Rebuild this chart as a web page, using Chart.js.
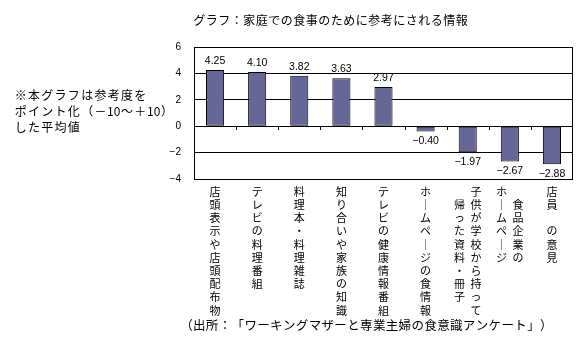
<!DOCTYPE html>
<html><head><meta charset="utf-8">
<script src="https://cdn.jsdelivr.net/npm/chart.js@4/dist/chart.umd.min.js"></script>
<style>html,body{margin:0;padding:0;background:#fff}#wrap{width:586px;height:363px;position:relative}</style>
</head><body><div id="wrap"><canvas id="c" width="586" height="363"></canvas></div>
<script>
// ---- data ----
const categories = [
  '店頭表示や店頭配布物',
  'テレビの料理番組',
  '料理本・料理雑誌',
  '知り合いや家族の知識',
  'テレビの健康情報番組',
  'ホームページの食情報',
  '子供が学校から持って帰った資料・冊子',
  '食品企業のホームページ',
  '店員の意見'
];
const values = [4.25, 4.10, 3.82, 3.63, 2.97, -0.40, -1.97, -2.67, -2.88];
const valueLabels = ['4.25', '4.10', '3.82', '3.63', '2.97', '−0.40', '−1.97', '−2.67', '−2.88'];
const yTickValues = [6, 4, 2, 0, -2, -4];
const yTickLabels = ['6', '4', '2', '0', '−2', '−4'];
// vertical label lines (one line per stacked character; two columns where the original wraps)
const xLabelLines = [
  ['店','頭','表','示','や','店','頭','配','布','物'],
  ['テ','レ','ビ','の','料','理','番','組'],
  ['料','理','本','・','料','理','雑','誌'],
  ['知','り','合','い','や','家','族','の','知','識'],
  ['テ','レ','ビ','の','健','康','情','報','番','組'],
  ['ホ','｜','ム','ペ','｜','ジ','の','食','情','報'],
  ['　\u2002子','帰\u2002供','っ\u2002が','た\u2002学','資\u2002校','料\u2002か','・\u2002ら','冊\u2002持','子\u2002っ','　\u2002て'],
  ['ホ\u2002　','｜\u2002食','ム\u2002品','ペ\u2002企','｜\u2002業','ジ\u2002の'],
  ['店','員','','の','意','見']
];
const titleText = 'グラフ：家庭での食事のために参考にされる情報';
const noteLines = ['※本グラフは参考度を', 'ポイント化（－10～＋10）', 'した平均値'];
const sourceText = '（出所：「ワーキングマザーと専業主婦の食意識アンケート」）';

const JP = '"Noto Sans CJK JP", "Noto Sans", sans-serif';
const NUM = '"Liberation Sans", Arial, sans-serif';

// draw text on a fixed character pitch (full-width / half-width cells)
function drawMono(ctx, text, x, y, pitch) {
  ctx.textAlign = 'center';
  let cx = x;
  for (const ch of text) {
    const w = ch.charCodeAt(0) < 0x100 ? pitch / 2 : pitch;
    ctx.fillText(ch, cx + w / 2, y);
    cx += w;
  }
}

const textPlugin = {
  id: 'texts',
  afterDraw(chart) {
    const ctx = chart.ctx;
    const a = chart.chartArea;
    ctx.save();
    // plot border
    ctx.strokeStyle = '#000';
    ctx.lineWidth = 1;
    ctx.strokeRect(Math.round(a.left) + 0.5, Math.round(a.top) + 0.5,
                   Math.round(a.right - a.left) - 1, Math.round(a.bottom - a.top));
    // tick marks on zero line at category boundaries
    const xs = chart.scales.x, ys = chart.scales.y;
    const zy = Math.round(ys.getPixelForValue(0));
    ctx.beginPath();
    for (let i = 1; i < categories.length; i++) {
      const bx = Math.round((xs.getPixelForValue(i - 1) + xs.getPixelForValue(i)) / 2) + 0.5;
      ctx.moveTo(bx, zy);
      ctx.lineTo(bx, zy + 4);
    }
    ctx.stroke();
    ctx.fillStyle = '#000';
    ctx.textBaseline = 'middle';
    // title
    ctx.font = '12px ' + JP;
    drawMono(ctx, titleText, 193, 20, 12.5);
    // note
    ctx.font = '12px ' + JP;
    const noteY = [95, 111, 127];
    noteLines.forEach((t, i) => drawMono(ctx, t, 14, noteY[i], 13.3));
    // source
    ctx.font = '12.5px ' + JP;
    drawMono(ctx, sourceText, 180, 325, 12.85);
    ctx.restore();
  }
};

const valueLabelPlugin = {
  id: 'valueLabels',
  afterDatasetsDraw(chart) {
    const ctx = chart.ctx;
    const meta = chart.getDatasetMeta(0);
    ctx.save();
    ctx.fillStyle = '#000';
    ctx.font = '10.5px ' + NUM;
    ctx.textAlign = 'center';
    ctx.textBaseline = 'middle';
    meta.data.forEach((el, i) => {
      const v = values[i];
      const y = v >= 0 ? el.y - 9 : el.y + 10;
      ctx.fillText(valueLabels[i], el.x, y);
    });
    ctx.restore();
  }
};

new Chart(document.getElementById('c'), {
  type: 'bar',
  data: {
    labels: xLabelLines,
    datasets: [{
      data: values,
      backgroundColor: '#666699',
      borderColor: '#000000',
      borderWidth: 1,
      borderSkipped: false,
      barPercentage: 0.43,
      categoryPercentage: 1.0
    }]
  },
  options: {
    responsive: false,
    animation: false,
    devicePixelRatio: 1,
    layout: { padding: { left: 0, top: 47, right: 13, bottom: 0 } },
    plugins: {
      legend: { display: false },
      title: { display: false },
      tooltip: { enabled: false }
    },
    scales: {
      x: {
        grid: { display: false, drawTicks: false },
        border: { display: false },
        ticks: {
          autoSkip: false,
          maxRotation: 0,
          minRotation: 0,
          padding: 6,
          color: '#000',
          font: { family: JP, size: 11, lineHeight: '13.2px' }
        },
        afterFit(scale) { scale.height = 184; }
      },
      y: {
        min: -4,
        max: 6,
        afterBuildTicks(scale) { scale.ticks = yTickValues.map(v => ({ value: v })); },
        grid: { color: '#000', lineWidth: 1, drawTicks: false },
        border: { display: true, color: '#000', width: 1 },
        ticks: {
          padding: 13,
          color: '#000',
          font: { family: NUM, size: 10 },
          callback(v) { const i = yTickValues.indexOf(v); return i >= 0 ? yTickLabels[i] : ''; }
        },
        afterFit(scale) { scale.width = 194; }
      }
    }
  },
  plugins: [valueLabelPlugin, textPlugin]
});
</script>
</body></html>
